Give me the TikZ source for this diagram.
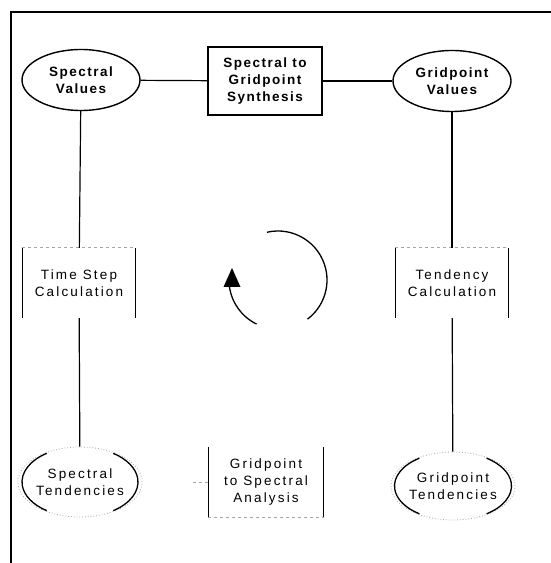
\documentclass[tikz,border=0pt]{standalone}
\usepackage{fontspec}
\setmainfont{Liberation Sans}
\newfontfamily\lblfont[LetterSpace=16]{Liberation Sans}
\newfontfamily\blblfont[LetterSpace=11]{Liberation Sans}
\usetikzlibrary{shapes.geometric}
\begin{document}
\begin{tikzpicture}[x=1pt,y=1pt,
  lbl/.style={font=\lblfont\fontsize{13.5}{17}\selectfont, align=center, inner sep=0pt},
  boldlbl/.style={lbl, font=\blblfont\bfseries\fontsize{13.5}{17}\selectfont},
  oval/.style={ellipse, draw, line width=1.4pt, minimum width=118pt, minimum height=61pt},
  faintoval/.style={ellipse, draw=black!35, dotted, line width=0.8pt, minimum width=116pt, minimum height=70pt},
  procbox/.style={rectangle, draw, line width=1.4pt, minimum width=114pt, minimum height=68pt},
  openbox/.style={rectangle, minimum width=113pt, minimum height=70pt},
  side/.style={line width=1.4pt},
  faint/.style={draw=black!35, dashed, line width=0.7pt},
  link/.style={line width=1.2pt}]
\useasboundingbox (0,0) rectangle (551,563);
\fill[white] (0,0) rectangle (551,563);
% frame
\coordinate (fbl) at (11,0);
\coordinate (ftl) at (11,551);
\coordinate (ftr) at (551,551);
\draw[line width=1.6pt] (fbl) -- (ftl) -- (ftr);
% top row
\node[oval, boldlbl] (sv) at (81,483) {Spectral\\Values};
\node[procbox, boldlbl] (syn) at (265,482) {Spectral to\\Gridpoint\\Synthesis};
\node[oval, boldlbl] (gv) at (452,482) {Gridpoint\\Values};
% middle row
\node[openbox, lbl] (ts) at (79,280) {Time Step\\Calculation};
\node[openbox, lbl] (tc) at (452,280) {Tendency\\Calculation};
% bottom row
\node[faintoval, lbl] (st) at (80,81) {Spectral\\Tendencies};
\node[openbox, lbl, minimum width=115pt] (an) at (266,81) {Gridpoint\\to Spectral\\Analysis};
\node[faintoval, lbl, minimum width=117pt, minimum height=68pt] (gt) at (453,77) {Gridpoint\\Tendencies};
% box sides
\foreach \n in {ts,tc,an}{
  \draw[side] (\n.north west) -- (\n.south west);
  \draw[side] (\n.north east) -- (\n.south east);
}
\draw[faint] (ts.north west) -- (ts.north east);
\draw[faint] (tc.north west) -- (tc.north east);
\draw[faint] (an.south west) -- (an.south east);
% solid side arcs of the faint ovals
\foreach \n/\rx/\ry in {st/58/35, gt/58.5/34}{
  \draw[line width=1.3pt] (\n.center) ++(125:\rx pt and \ry pt) arc[start angle=125, end angle=235, x radius=\rx pt, y radius=\ry pt];
  \draw[line width=1.3pt] (\n.center) ++(-55:\rx pt and \ry pt) arc[start angle=-55, end angle=55, x radius=\rx pt, y radius=\ry pt];
}
% connectors
\draw[link] (sv) -- (syn);
\draw[link] (syn) -- (gv);
\draw[link] (sv) -- (ts);
\draw[link] (ts) -- (st);
\draw[link] (gv) -- (tc);
\draw[link] (tc) -- (gt);
\coordinate (stub) at (192,81);
\draw[faint] (an.west) -- (stub);
% cycle arrow
\coordinate (cyc) at (278,283);
\draw[line width=1.3pt] (cyc) ++(103:49pt) arc[start angle=103, end angle=-53, radius=49pt];
\draw[line width=1.3pt] (cyc) ++(244:49pt) arc[start angle=244, end angle=188, radius=49pt];
\coordinate (tip) at (232,295);
\fill (tip) -- ++(-8.5,-19) -- ++(17,0) -- cycle;
\end{tikzpicture}
\end{document}
